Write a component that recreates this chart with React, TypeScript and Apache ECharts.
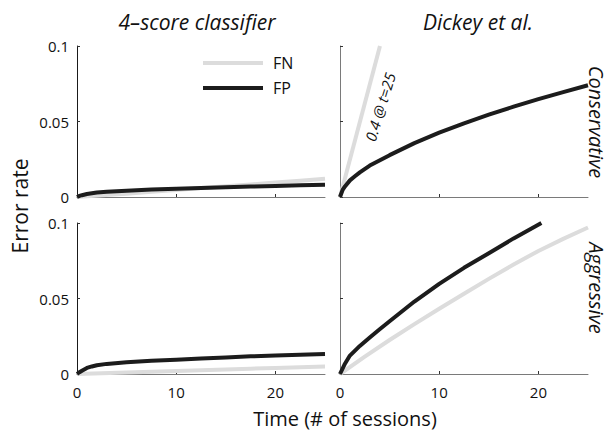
import React, { useEffect, useRef } from "react";
import * as echarts from "echarts";

const FONT = "'Open Sans', 'Noto Sans', sans-serif";
const FN_COLOR = "#dcdcdc";
const FP_COLOR = "#1c1c1c";

// time (sessions)
const timeFine = [0, 0.25, 0.5, 1, 1.5, 2, 3, 5, 7.5, 10, 12.5, 15, 17.5, 20, 22.5, 25];
const timeCoarse = [0, 2.5, 5, 7.5, 10, 12.5, 15, 17.5, 20, 22.5, 25];

// 4-score classifier, conservative
const tlFN = [0, 0.0011, 0.0022, 0.0034, 0.0047, 0.0059, 0.0071, 0.0083, 0.0096, 0.0108, 0.0121];
const tlFP = [0, 0.0007, 0.0012, 0.002, 0.0025, 0.003, 0.0035, 0.0042, 0.0049, 0.0055, 0.006, 0.0064, 0.0069, 0.0073, 0.0077, 0.0081];

// Dickey et al., conservative
const trFNTime = [0, 4.03];
const trFN = [0, 0.1];
const trFP = [0, 0.0045, 0.007, 0.011, 0.0137, 0.0163, 0.0208, 0.0277, 0.0357, 0.0426, 0.0488, 0.0545, 0.0598, 0.0648, 0.0695, 0.074];

// 4-score classifier, aggressive
const blFN = [0, 0.0005, 0.001, 0.0015, 0.002, 0.0025, 0.003, 0.0035, 0.004, 0.0045, 0.0049];
const blFP = [0, 0.0012, 0.0022, 0.004, 0.005, 0.0058, 0.0067, 0.0078, 0.0087, 0.0095, 0.0103, 0.011, 0.0117, 0.0123, 0.0128, 0.0133];

// Dickey et al., aggressive
const brFN = [0, 0.0115, 0.0225, 0.033, 0.0432, 0.0532, 0.063, 0.0725, 0.0815, 0.0895, 0.097];
const brFPTime = [0, 0.5, 1, 2, 3, 4, 5, 7.5, 10, 12.5, 15, 17.5, 20.3];
const brFP = [0, 0.0068, 0.0122, 0.0186, 0.0242, 0.0296, 0.0349, 0.048, 0.0597, 0.0703, 0.08, 0.0898, 0.1];

const xTicks = [0, 10, 20];
const yTicks = [0, 0.05, 0.1];

const colTitles = ["4\u2013score classifier", "Dickey et al."];
const rowTitles = ["Conservative", "Aggressive"];

const zip = (xs: number[], ys: number[]) => ys.map((y, i) => [xs[i], y]);

export default function App() {
  const ref = useRef<HTMLDivElement>(null);
  useEffect(() => {
    if (!ref.current) return;
    const chart = echarts.init(ref.current, null, { renderer: "svg" });
    const grids = [
      { left: 77, top: 46, width: 248, height: 151 },
      { left: 340, top: 46, width: 248, height: 151 },
      { left: 77, top: 223, width: 248, height: 151 },
      { left: 340, top: 223, width: 248, height: 151 },
    ];
    const xAxes = grids.map((_, i) => ({
      type: "value",
      gridIndex: i,
      min: 0,
      max: 25,
      splitLine: { show: false },
      axisLine: { show: true, lineStyle: { color: "#7a7a7a", width: 1 } },
      axisTick: {
        show: true,
        inside: true,
        length: 3,
        customValues: xTicks,
        lineStyle: { color: "#333" },
      },
      axisLabel: {
        show: i >= 2,
        customValues: xTicks,
        color: "#111",
        fontFamily: FONT,
        fontSize: 15,
        margin: 10,
      },
    }));
    const yAxes = grids.map((_, i) => ({
      type: "value",
      gridIndex: i,
      min: 0,
      max: 0.1,
      interval: 0.05,
      splitLine: { show: false },
      axisLine: {
        show: true,
        lineStyle: { color: i % 2 === 0 ? "#1a1a1a" : "#7a7a7a", width: 1 },
      },
      axisTick: {
        show: true,
        inside: true,
        length: 3,
        customValues: yTicks,
        lineStyle: { color: "#333" },
      },
      axisLabel: {
        show: i % 2 === 0,
        customValues: yTicks,
        color: "#111",
        fontFamily: FONT,
        fontSize: 15,
        margin: 8,
        formatter: (v: number) => String(+v.toFixed(3)),
      },
    }));
    const mk = (name: string, idx: number, data: number[][], color: string, z: number) => ({
      type: "line",
      name,
      xAxisIndex: idx,
      yAxisIndex: idx,
      data,
      showSymbol: false,
      symbol: "none",
      smooth: false,
      clip: true,
      z,
      lineStyle: { color, width: 4, cap: "butt", join: "round" },
      itemStyle: { color },
    });
    const series = [
      mk("FN", 0, zip(timeCoarse, tlFN), FN_COLOR, 2),
      mk("FP", 0, zip(timeFine, tlFP), FP_COLOR, 3),
      mk("FN", 1, zip(trFNTime, trFN), FN_COLOR, 2),
      mk("FP", 1, zip(timeFine, trFP), FP_COLOR, 3),
      mk("FN", 2, zip(timeCoarse, blFN), FN_COLOR, 2),
      mk("FP", 2, zip(timeFine, blFP), FP_COLOR, 3),
      mk("FN", 3, zip(timeCoarse, brFN), FN_COLOR, 2),
      mk("FP", 3, zip(brFPTime, brFP), FP_COLOR, 3),
    ];
    const txt = (
      text: string,
      x: number,
      y: number,
      size: number,
      rotation = 0,
      italic = false
    ) => ({
      type: "text",
      x,
      y,
      rotation,
      style: {
        text,
        fontSize: size,
        fontFamily: FONT,
        fontStyle: italic ? "italic" : "normal",
        fill: "#111",
        align: "center",
        verticalAlign: "middle",
      },
    });
    chart.setOption({
      animation: false,
      backgroundColor: "#fff",
      grid: grids,
      xAxis: xAxes,
      yAxis: yAxes,
      series,
      legend: {
        orient: "vertical",
        left: 198,
        top: 50,
        itemWidth: 60,
        itemHeight: 4,
        itemGap: 9,
        selectedMode: false,
        textStyle: { fontFamily: FONT, fontSize: 16, color: "#111", padding: [0, 0, 0, 5] },
        data: [
          { name: "FN", icon: "rect", itemStyle: { color: FN_COLOR } },
          { name: "FP", icon: "rect", itemStyle: { color: FP_COLOR } },
        ],
      },
      graphic: [
        txt(colTitles[0], 197, 22, 21, 0, true),
        txt(colTitles[1], 478, 22, 21, 0, true),
        txt(rowTitles[0], 596, 122, 20, -Math.PI / 2, true),
        txt(rowTitles[1], 596, 288, 20, -Math.PI / 2, true),
        txt("Error rate", 20, 206, 21, Math.PI / 2),
        txt("Time (# of sessions)", 345, 418, 20),
        txt("0.4 @ t=25", 380, 107, 15, (73 * Math.PI) / 180, true),
      ],
    });
    return () => chart.dispose();
  }, []);
  return (
    <div
      ref={ref}
      style={{ position: "fixed", left: 0, top: 0, width: 610, height: 433 }}
    />
  );
}
